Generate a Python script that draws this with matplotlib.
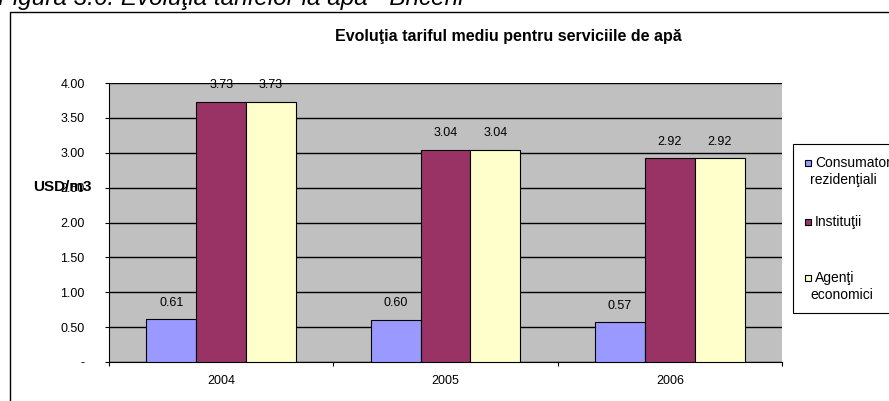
import numpy as np
import matplotlib.pyplot as plt
from matplotlib.patches import Rectangle

plt.rcParams['font.family'] = ['Liberation Sans', 'DejaVu Sans']

# Datos del grafico
anios = ['2004', '2005', '2006']
series = ['Consumatori\nrezidenţiali', 'Instituţii', 'Agenţi\neconomici']
consumatori = [0.61, 0.60, 0.57]
institutii = [3.73, 3.04, 2.92]
agenti = [3.73, 3.04, 2.92]
colores = ['#9999FF', '#993366', '#FFFFCC']

W, H = 889, 401
fig = plt.figure(figsize=(W / 100, H / 100), dpi=100)

# Titulo de la figura (cortado arriba como en el original)
fig.text(-0.002, 1 - 5 / H, 'Figura 3.6. Evoluţia tarifelor la apă - Briceni', fontsize=17.5,
         style='italic', va='baseline', ha='left')

# Marco del grafico
fig.patches.append(Rectangle((10 / W, -0.1), 1.2, 1 - 12 / H + 0.1,
                             transform=fig.transFigure, fill=False,
                             edgecolor='black', linewidth=1.0))

ax = fig.add_axes([109 / W, 1 - 362 / H, (782 - 109) / W, (362 - 83) / H])
ax.set_facecolor('#C0C0C0')

x = np.arange(len(anios))
w = 0.222
datos = [consumatori, institutii, agenti]
for i, vals in enumerate(datos):
    barras = ax.bar(x + (i - 1) * w, vals, w, color=colores[i], edgecolor='black',
                    linewidth=0.8, label=series[i], zorder=3)
    for b, v in zip(barras, vals):
        ax.annotate('%.2f' % v, (b.get_x() + b.get_width() / 2, v), xytext=(0, 12),
                    textcoords='offset points', ha='center', va='center', fontsize=9)

ax.set_ylim(0, 4)
ax.set_xlim(-0.5, 2.5)
yt = np.arange(0, 4.01, 0.5)
ax.set_yticks(yt)
ax.set_yticklabels(['-' if v == 0 else '%.2f' % v for v in yt], fontsize=9)
ax.yaxis.grid(True, color='black', linewidth=1.0, zorder=1)
ax.set_axisbelow(True)

ax.set_xticks([-0.5, 0.5, 1.5, 2.5])
ax.set_xticklabels([])
ax.set_xticks(x, minor=True)
ax.set_xticklabels(anios, minor=True, fontsize=9)
ax.tick_params(axis='x', which='minor', length=0, pad=9)
ax.tick_params(axis='x', which='major', length=3, direction='out')
ax.tick_params(axis='y', length=3, direction='out', pad=14.5)

for s in ['top', 'right']:
    ax.spines[s].set_visible(False)

fig.text(508 / W, 1 - 37 / H, 'Evoluţia tariful mediu pentru serviciile de apă', fontsize=11.5,
         fontweight='bold', ha='center', va='center')
fig.text(33 / W, 1 - 187 / H, 'USD/m3', fontsize=11, fontweight='bold',
         va='center', ha='left')

# Leyenda hecha a mano (estilo Excel)
fig.patches.append(Rectangle((793 / W, 1 - 313 / H), 0.5, (313 - 144) / H,
                             transform=fig.transFigure, facecolor='white',
                             edgecolor='black', linewidth=0.8))
ley_y = [163, 222, 278]
for i in range(len(series)):
    fig.patches.append(Rectangle((805 / W, 1 - (ley_y[i] + 3) / H), 6 / W, 6 / H,
                                 transform=fig.transFigure, facecolor=colores[i],
                                 edgecolor='black', linewidth=0.8))
    lineas = series[i].split('\n')
    for j, txt in enumerate(lineas):
        x0 = 815 if j == 0 else 810
        fig.text(x0 / W, 1 - (ley_y[i] + 17 * j) / H, txt, fontsize=10,
                 va='center', ha='left')

plt.savefig('out.png', dpi=100)
